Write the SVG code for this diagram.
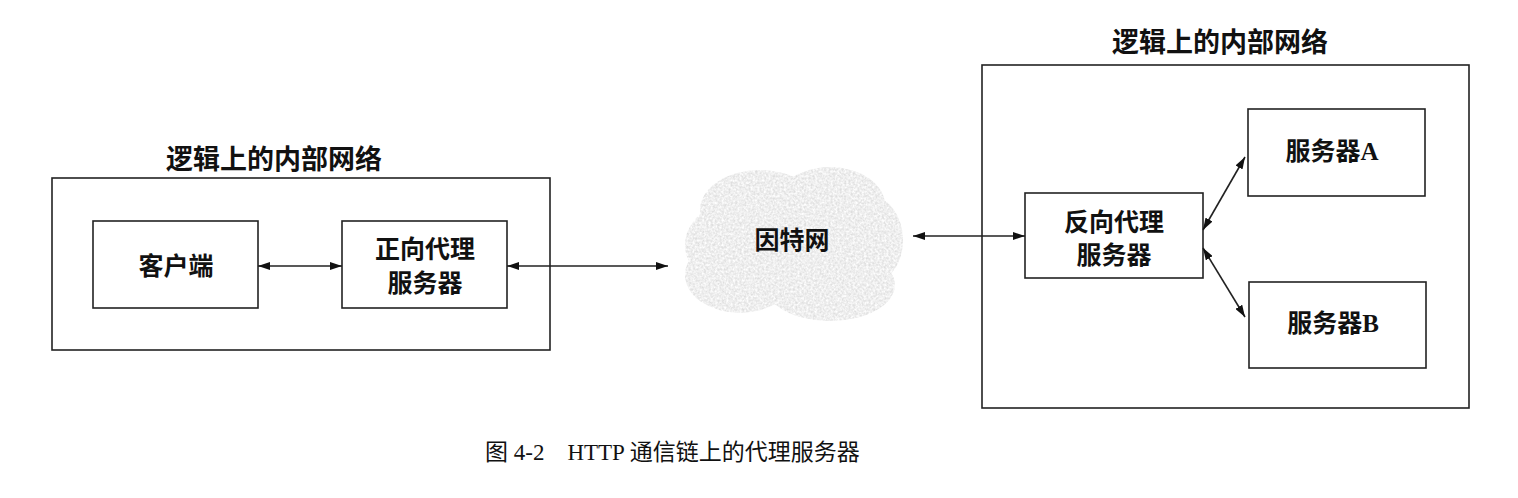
<svg xmlns="http://www.w3.org/2000/svg" width="1518" height="498" viewBox="0 0 1518 498">
<style>
.box{fill:#fff;stroke:#222;stroke-width:1.6}
.frame{fill:none;stroke:#222;stroke-width:1.6}
.t{font-family:"Liberation Serif","Noto Sans CJK SC",serif;font-weight:bold;fill:#111;text-anchor:middle;dominant-baseline:central}
.lbl{font-size:25px}
.ttl{font-size:27px}
.cap{font-family:"Liberation Serif","Noto Sans CJK SC",serif;font-size:23px;fill:#111}
.conn{stroke:#222;stroke-width:1.6;fill:none;marker-start:url(#ah);marker-end:url(#ah)}
</style>
<defs>
<marker id="ah" viewBox="0 0 12 8" refX="12" refY="4" markerWidth="12" markerHeight="8" markerUnits="userSpaceOnUse" orient="auto-start-reverse">
<path d="M0,0 L12,4 L0,8 Z" fill="#111"/>
</marker>
<filter id="grain" x="-10%" y="-10%" width="120%" height="120%">
<feTurbulence type="fractalNoise" baseFrequency="0.45" numOctaves="2" seed="3" result="n"/>
<feColorMatrix in="n" type="matrix" values="0 0 0 0 0  0 0 0 0 0  0 0 0 0 0  0 0 0 -1.6 1.3" result="a"/>
<feComposite in="SourceGraphic" in2="a" operator="in" result="g"/>
<feGaussianBlur in="g" stdDeviation="0.5"/>
</filter>
</defs>

<g id="left-network">
<rect class="frame" x="52" y="178" width="498" height="172"/>
<text class="t ttl" x="274" y="160">逻辑上的内部网络</text>
</g>
<g id="client">
<rect class="box" x="93" y="221" width="165" height="87"/>
<text class="t lbl" x="176" y="266">客户端</text>
</g>
<g id="forward-proxy">
<rect class="box" x="342" y="221" width="165" height="87"/>
<text class="t lbl" x="425" y="249">正向代理</text>
<text class="t lbl" x="425" y="283">服务器</text>
</g>

<g id="internet">
<g filter="url(#grain)" fill="#dedede">
<ellipse cx="790" cy="245" rx="105" ry="60"/>
<ellipse cx="760" cy="210" rx="60" ry="40"/>
<ellipse cx="830" cy="205" rx="55" ry="38"/>
<ellipse cx="740" cy="275" rx="55" ry="38"/>
<ellipse cx="830" cy="285" rx="65" ry="36"/>
<ellipse cx="868" cy="240" rx="35" ry="45"/>
</g>
<text class="t lbl" x="792" y="240">因特网</text>
</g>

<g id="right-network">
<rect class="frame" x="982" y="65" width="487" height="343"/>
<text class="t ttl" x="1220" y="43">逻辑上的内部网络</text>
</g>
<g id="reverse-proxy">
<rect class="box" x="1025" y="193" width="178" height="85"/>
<text class="t lbl" x="1114" y="222">反向代理</text>
<text class="t lbl" x="1114" y="255">服务器</text>
</g>
<g id="server-a">
<rect class="box" x="1248" y="109" width="177" height="87"/>
<text class="t lbl" x="1332" y="151">服务器A</text>
</g>
<g id="server-b">
<rect class="box" x="1249" y="282" width="177" height="86"/>
<text class="t lbl" x="1333" y="323">服务器B</text>
</g>

<g id="connectors">
<line class="conn" x1="258" y1="266" x2="342" y2="266"/>
<line class="conn" x1="507" y1="266" x2="668" y2="266"/>
<line class="conn" x1="913" y1="236" x2="1025" y2="236"/>
<line class="conn" x1="1203" y1="230" x2="1245" y2="157"/>
<line class="conn" x1="1203" y1="248" x2="1245" y2="317"/>
</g>

<text class="cap" x="485" y="460" xml:space="preserve">图 4-2    HTTP 通信链上的代理服务器</text>
</svg>
